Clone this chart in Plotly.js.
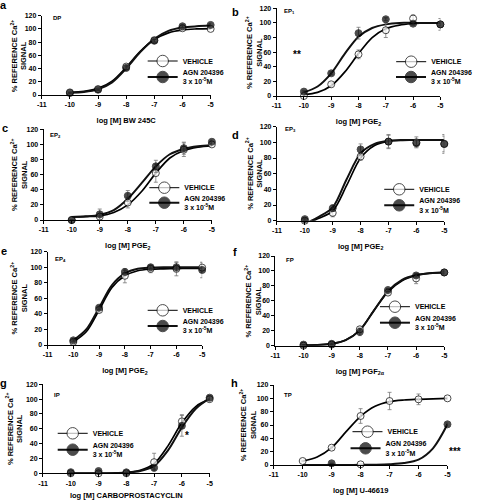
<!DOCTYPE html>
<html>
<head>
<meta charset="utf-8">
<script src="https://cdn.plot.ly/plotly-3.0.1.min.js"></script>
<style>
html,body{margin:0;padding:0;background:#fff;}
#chart{width:477px;height:500px;}
</style>
</head>
<body>
<div id="chart"></div>
<script>
// ---------------- DATA ----------------
const doses = [-10, -9, -8, -7, -6, -5];
const curveX = [-10, -9.5, -9, -8.5, -8, -7.5, -7, -6.5, -6, -5.5, -5];
const xTickVals = [-11, -10, -9, -8, -7, -6, -5];
const xTickLabels = ['-11', '-10', '-9', '-8', '-7', '-6', '-5'];
const yTickVals = [0, 20, 40, 60, 80, 100, 120];
const panelLetters = ['a', 'b', 'c', 'd', 'e', 'f', 'g', 'h'];
const receptors = ['DP', 'EP<sub>1</sub>', 'EP<sub>2</sub>', 'EP<sub>3</sub>', 'EP<sub>4</sub>', 'FP', 'IP', 'TP'];
const agonistTitles = ['log [M] BW 245C', 'log [M] PGE<sub>2</sub>', 'log [M] PGE<sub>2</sub>', 'log [M] PGE<sub>2</sub>',
  'log [M] PGE<sub>2</sub>', 'log [M] PGF<sub>2\u03b1</sub>', 'log [M] CARBOPROSTACYCLIN', 'log [M] U-46619'];
const yTitle = '% REFERENCE Ca<sup>2+</sup><br>SIGNAL';
const vehicleName = 'VEHICLE';
const agnName = 'AGN 204396<br>3 x 10<sup>-5</sup>M';
const significance = ['', '**', '', '', '', '', '*', '***'];

// a  DP
const aVeh = [4, 9, 43, 83, 101, 100];
const aVehErr = [1, 2, 3, 3, 2, 1];
const aAgn = [3, 8, 41, 82, 104, 106];
const aAgnErr = [1, 1, 3, 2, 2, 2];
const aVehFit = [4, 5.5, 10, 21, 42, 66, 84, 94, 98.5, 100, 100.5];
const aAgnFit = [3.5, 4.5, 8.5, 19, 40, 65, 85, 97, 102, 104, 105];
// b  EP1
const bVeh = [0, 16, 57, 90, 106, 98];
const bVehErr = [1, 2, 6, 10, 5, 8];
const bAgn = [6, 31, 86, 105, 99, 98];
const bAgnErr = [1, 2, 8, 2, 2, 2];
const bVehFit = [2, 5, 14, 33, 58, 80, 92, 97, 99, 100, 100];
const bAgnFit = [5, 13, 31, 58, 81, 93, 98, 100, 100, 100, 100];
// c  EP2
const cVeh = [0, 4.5, 23, 62, 93, 100];
const cVehErr = [0, 3, 7, 12, 9, 2];
const cAgn = [0, 7.5, 32, 71, 95, 103.5];
const cAgnErr = [0, 7, 7, 8, 8, 2];
const cVehFit = [4, 4.5, 5.5, 10, 20, 38, 62, 82, 92, 96.5, 98.5];
const cAgnFit = [4, 4.8, 6.8, 13, 28, 49, 71, 87, 94, 97.5, 99];
// d  EP3
const dVeh = [0, 10, 82, 101, 100, 98];
const dVehErr = [0, 5, 5, 9, 7, 10];
const dAgn = [2, 16, 91, 101, 99, 98];
const dAgnErr = [1, 4, 7, 8, 5, 12];
const dVehFit = [-5, 3, 12.5, 45, 80, 96, 101.5, 102.5, 103, 103, 103];
const dAgnFit = [-4, 5, 17, 53, 86, 98, 102, 103, 103, 103, 103];
// e  EP4
const eVeh = [4, 45, 89, 98, 98, 99.5];
const eVehErr = [1, 3, 9, 5, 9, 6];
const eAgn = [6, 48, 94, 100, 100, 96.5];
const eAgnErr = [1, 2, 2, 2, 6, 10];
const eVehFit = [4, 17, 45, 74, 89, 95.5, 97.5, 98, 98.3, 98.5, 98.5];
const eAgnFit = [6, 20, 48, 77, 92, 98, 99.5, 100, 100, 100, 100];
// f  FP
const fVeh = [0, 1.5, 22, 71, 90, 98];
const fVehErr = [0, 1, 3, 3, 7, 2];
const fAgn = [1.5, 2.5, 18.5, 74.5, 94, 98];
const fAgnErr = [0, 1, 5, 2, 2, 2];
const fVehFit = [0.5, 1, 2.5, 7.5, 21, 47, 72, 87, 94, 97, 98];
const fAgnFit = [0.5, 1, 2.5, 7.5, 20.5, 47, 73, 88, 94.5, 97, 98];
// g  IP
const gVeh = [0, 0, 0, 15, 70, 100];
const gVehErr = [0, 0, 0, 12, 9, 4];
const gAgn = [1.5, 3, 1.3, 7.5, 64, 102];
const gAgnErr = [0, 0, 0, 2, 14, 3];
const gVehFit = [0, 0, 0, 0.3, 1.2, 4, 13, 37, 68, 90, 100];
const gAgnFit = [0, 0, 0, 0.2, 0.8, 3, 10, 31, 62, 87, 101];
// h  TP
const hVeh = [6, 26, 73.5, 96, 98.5, 100];
const hVehErr = [1, 2, 11, 13, 8, 2];
const hAgn = [null, 2.5, 1, null, null, 61];
const hAgnErr = [null, 0, 0, null, null, 2];
const hVehFit = [6, 12, 26, 50, 73, 88, 95, 97.5, 98.5, 99.3, 99.8];
const hAgnFit = [0, 0, 0, 0, 0.2, 0.5, 1.2, 3, 8, 25, 61];

// ---------------- LAYOUT / STYLE ----------------
const W = 477, H = 500;
const FONT = 'Liberation Sans, Arial, Helvetica, sans-serif';
// plot area in pixels [left, right, top, bottom]
const boxes = [
  [43, 217, 15.7, 95], [285, 453.7, 8.3, 96],
  [45, 218.3, 129.3, 220], [285.3, 457.7, 126.7, 220.7],
  [49, 208.3, 251.7, 345], [283.7, 457.7, 256, 345.7],
  [44.3, 216, 384.3, 473.3], [282, 461, 385, 465]
];
// y-title centre x in pixels
const yTitleX = [19.5, 261.5, 19, 261.8, 19.7, 260.2, 14.7, 255.8];
// legend marker centres in pixels [vehX, vehY, agnX, agnY]
const legendPos = [
  [170, 61, 170, 76], [426, 61.7, 426, 76],
  [171.7, 187.7, 171.7, 201.7], [413.7, 189.3, 413.7, 204.3],
  [170, 310.3, 170, 325], [409.3, 306.7, 409.3, 321.7],
  [77.3, 433.3, 77.3, 448.7], [381, 431.7, 379, 447.3]
];
const letterPos = [[4, 5], [243, 12], [5, 128], [243, 135], [4, 250.5], [242, 252], [4, 383], [241.5, 383]];
const receptorPos = [[-10.66, 117], [-10.82, 115], [-10.83, 112], [-10.77, 116], [-10.77, 110], [-10.71, 114], [-10.69, 105], [-10.72, 105]];
const sigPos = [null, [306, 55, 'center'], null, null, null, null, [193, 435, 'center'], [477, 451.7, 'right']];
const openAgnDose = [null, null, null, null, null, null, null, -8];

const panels = [
  [aVeh, aVehErr, aAgn, aAgnErr, aVehFit, aAgnFit],
  [bVeh, bVehErr, bAgn, bAgnErr, bVehFit, bAgnFit],
  [cVeh, cVehErr, cAgn, cAgnErr, cVehFit, cAgnFit],
  [dVeh, dVehErr, dAgn, dAgnErr, dVehFit, dAgnFit],
  [eVeh, eVehErr, eAgn, eAgnErr, eVehFit, eAgnFit],
  [fVeh, fVehErr, fAgn, fAgnErr, fVehFit, fAgnFit],
  [gVeh, gVehErr, gAgn, gAgnErr, gVehFit, gAgnFit],
  [hVeh, hVehErr, hAgn, hAgnErr, hVehFit, hAgnFit]
];

const PT = 7;        // marker size on plot
const LEG = 11.5;    // marker size shown in legend (mean of size array)
const LEGFONT = 7;
const TICKFONT = 7;

function withGaps(arr) {
  const out = [];
  arr.forEach((v, i) => { if (i > 0) out.push(null); out.push(v); });
  return out;
}
function gapSizes(n) {
  const N = 2 * n - 1, gaps = n - 1;
  const g = (LEG * N - PT * n) / gaps;
  const out = [];
  for (let i = 0; i < n; i++) { if (i > 0) out.push(g); out.push(PT); }
  return out;
}

const traces = [];
const layout = {
  width: W, height: H,
  margin: {l: 0, r: 0, t: 0, b: 0},
  paper_bgcolor: 'white', plot_bgcolor: 'white',
  font: {family: FONT, size: 7.5, color: 'black', weight: 700},
  showlegend: true,
  annotations: []
};

panels.forEach((p, i) => {
  const [veh, vehErr, agn, agnErr, vehFit, agnFit] = p;
  const k = i + 1;
  const xa = k === 1 ? 'x' : 'x' + k;
  const ya = k === 1 ? 'y' : 'y' + k;
  const xName = k === 1 ? 'xaxis' : 'xaxis' + k;
  const yName = k === 1 ? 'yaxis' : 'yaxis' + k;
  const lv = 2 * i + 1 === 1 ? 'legend' : 'legend' + (2 * i + 1);
  const la = 'legend' + (2 * i + 2);
  const b = boxes[i];

  // fitted curves
  traces.push({x: curveX, y: vehFit, xaxis: xa, yaxis: ya, mode: 'lines', showlegend: false, hoverinfo: 'skip',
    line: {color: 'black', width: 1.7, shape: 'spline', smoothing: 0.9}});
  traces.push({x: curveX, y: agnFit, xaxis: xa, yaxis: ya, mode: 'lines', showlegend: false, hoverinfo: 'skip',
    line: {color: '#111', width: 2, shape: 'spline', smoothing: 0.9}});

  // vehicle points
  traces.push({
    x: withGaps(doses), y: withGaps(veh), xaxis: xa, yaxis: ya, name: vehicleName, legend: lv,
    mode: 'lines+markers', cliponaxis: false,
    line: {color: 'black', width: 1},
    marker: {symbol: 'circle', size: gapSizes(doses.length), color: 'white', line: {color: 'black', width: 1}},
    error_y: {type: 'data', array: withGaps(vehErr), visible: true, color: '#777', thickness: 0.8, width: 2}
  });
  // AGN points
  const fills = doses.map(d => d === openAgnDose[i] ? 'white' : 'black');
  traces.push({
    x: withGaps(doses), y: withGaps(agn), xaxis: xa, yaxis: ya, name: agnName, legend: la,
    mode: 'lines+markers', cliponaxis: false,
    line: {color: '#111', width: 2},
    marker: {symbol: 'circle', size: gapSizes(doses.length), color: withGaps(fills), line: {color: 'black', width: 1}},
    error_y: {type: 'data', array: withGaps(agnErr), visible: true, color: '#777', thickness: 0.8, width: 2}
  });

  layout[xName] = {
    domain: [b[0] / W, b[1] / W], anchor: ya, range: [-11, -5],
    tickmode: 'array', tickvals: xTickVals, ticktext: xTickLabels,
    ticks: 'outside', ticklen: 3, tickwidth: 1, tickcolor: 'black',
    showline: true, linecolor: 'black', linewidth: 1, showgrid: false, zeroline: false, fixedrange: true,
    tickfont: {family: FONT, size: TICKFONT, weight: 700},
    title: {text: agonistTitles[i], font: {family: FONT, size: 7.5, weight: 700}, standoff: 10}
  };
  layout[yName] = {
    domain: [1 - b[3] / H, 1 - b[2] / H], anchor: xa, range: [0, 120],
    tickmode: 'array', tickvals: yTickVals,
    ticks: 'outside', ticklen: 3, tickwidth: 1, tickcolor: 'black',
    showline: true, linecolor: 'black', linewidth: 1, showgrid: false, zeroline: false, fixedrange: true,
    tickfont: {family: FONT, size: TICKFONT, weight: 700}
  };

  // y-axis title as a rotated annotation (exact placement)
  layout.annotations.push({xref: 'paper', yref: 'paper', x: yTitleX[i] / W, y: 1 - (b[2] + b[3]) / 2 / H,
    xanchor: 'center', yanchor: 'middle', text: yTitle, textangle: -90, showarrow: false,
    font: {family: FONT, size: 7.5, weight: 700}});

  // legends (one per entry)
  const lp = legendPos[i];
  const h1 = Math.max(LEGFONT * 1.3, 16) + 3;
  const h2 = Math.max(2 * LEGFONT * 1.3, 16) + 3;
  const legBase = {xanchor: 'left', yanchor: 'top', bgcolor: 'rgba(0,0,0,0)', borderwidth: 0,
    font: {family: FONT, size: LEGFONT, weight: 700}, itemwidth: 30, itemclick: false, itemdoubleclick: false};
  layout[lv] = Object.assign({}, legBase, {x: (lp[0] - 23) / W, y: 1 - (lp[1] - 5 - h1 / 2) / H});
  layout[la] = Object.assign({}, legBase, {x: (lp[2] - 23) / W, y: 1 - (lp[3] + 1 - 5 - h2 / 2) / H});

  // panel letter
  layout.annotations.push({xref: 'paper', yref: 'paper', x: letterPos[i][0] / W, y: 1 - letterPos[i][1] / H,
    xanchor: 'center', yanchor: 'middle', text: panelLetters[i], showarrow: false,
    font: {family: FONT, size: 11, weight: 700}});
  // receptor label
  layout.annotations.push({xref: xa, yref: ya, x: receptorPos[i][0], y: receptorPos[i][1],
    xanchor: 'left', yanchor: 'middle', text: receptors[i], showarrow: false,
    font: {family: FONT, size: 6, weight: 700}});
  // significance
  if (significance[i]) {
    layout.annotations.push({xref: 'paper', yref: 'paper', x: sigPos[i][0] / W, y: 1 - sigPos[i][1] / H,
      xanchor: sigPos[i][2], yanchor: 'middle', text: significance[i], showarrow: false,
      font: {family: FONT, size: 10, weight: 700}});
  }
});

Plotly.newPlot('chart', traces, layout, {staticPlot: true, displayModeBar: false});
</script>
</body>
</html>
